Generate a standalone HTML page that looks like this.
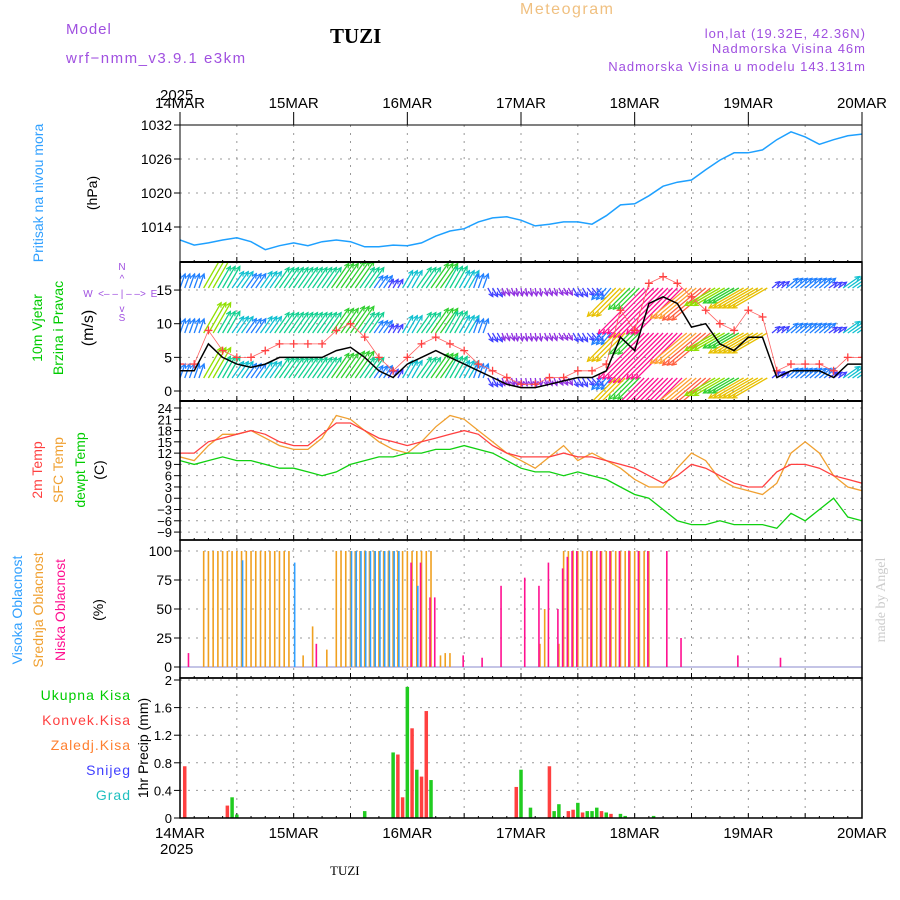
<!DOCTYPE html>
<html><head><meta charset="utf-8"><style>
body{margin:0;background:#fff}
svg{display:block;font-family:"Liberation Sans",sans-serif}
</style></head><body>
<svg id="c" width="900" height="900" xmlns="http://www.w3.org/2000/svg">
<g>
<text x="66" y="34" fill="#a050e0" font-size="15" letter-spacing="1">Model</text>
<text x="66" y="63" fill="#a050e0" font-size="15" letter-spacing="1.5">wrf−nmm_v3.9.1 e3km</text>
<text x="330" y="43" fill="#000" font-size="21" font-weight="bold" font-family="Liberation Serif,serif">TUZI</text>
<text x="520" y="14" fill="#f0c080" font-size="16" letter-spacing="1.5">Meteogram</text>
<text x="866" y="38" fill="#a050e0" font-size="13" text-anchor="end" letter-spacing="1">lon,lat (19.32E, 42.36N)</text>
<text x="866" y="53" fill="#a050e0" font-size="13" text-anchor="end" letter-spacing="1">Nadmorska Visina 46m</text>
<text x="866" y="71" fill="#a050e0" font-size="13" text-anchor="end" letter-spacing="1">Nadmorska Visina u modelu 143.131m</text>
<text x="160" y="100" font-size="15">2025</text>
<text x="160" y="854" font-size="15">2025</text>
<text x="330" y="875" font-size="13" font-family="Liberation Serif,serif">TUZI</text>
<text transform="translate(885,600) rotate(-90)" font-size="14" fill="#ccc" text-anchor="middle" font-family="Liberation Serif,serif">made by Angel</text>
</g>
<g font-size="14" text-anchor="middle">
<text transform="translate(43,193) rotate(-90)" fill="#30a0ff">Pritisak na nivou mora</text>
<text transform="translate(97,193) rotate(-90)" fill="#000">(hPa)</text>
<text transform="translate(42,328) rotate(-90)" fill="#00cc00">10m Vjetar</text>
<text transform="translate(63,328) rotate(-90)" fill="#00cc00">Brzina i Pravac</text>
<text transform="translate(93,328) rotate(-90)" fill="#000" font-size="16">(m/s)</text>
<g fill="#a050e0" font-size="10">
<text x="122" y="270">N</text><text x="122" y="321">S</text><text x="88" y="297">W</text><text x="154" y="297">E</text>
<text x="122" y="297">&lt;– – | – –&gt;</text><text x="122" y="282">^</text><text x="122" y="312">v</text></g>
<text transform="translate(42,470) rotate(-90)" fill="#ff4040">2m Temp</text>
<text transform="translate(63,470) rotate(-90)" fill="#f0a030">SFC Temp</text>
<text transform="translate(85,470) rotate(-90)" fill="#00cc00">dewpt Temp</text>
<text transform="translate(104,470) rotate(-90)" fill="#000">(C)</text>
<text transform="translate(22,610) rotate(-90)" fill="#30a0ff">Visoka Oblacnost</text>
<text transform="translate(43,610) rotate(-90)" fill="#f0a030">Srednja Oblacnost</text>
<text transform="translate(65,610) rotate(-90)" fill="#ff1090">Niska Oblacnost</text>
<text transform="translate(103,610) rotate(-90)" fill="#000">(%)</text>
<text transform="translate(148,748) rotate(-90)" fill="#000">1hr Precip (mm)</text>
<g text-anchor="end" font-size="14" letter-spacing="1">
<text x="131" y="700" fill="#00cc00">Ukupna Kisa</text>
<text x="131" y="725" fill="#ff4040">Konvek.Kisa</text>
<text x="131" y="750" fill="#ff8030">Zaledj.Kisa</text>
<text x="131" y="775" fill="#4040ff">Snijeg</text>
<text x="131" y="800" fill="#20c0c0">Grad</text>
</g></g>
<g id="plot"></g>
</svg>
<script>
// data arrays (3-hourly, 14MAR00 .. 20MAR00)
const days = ["14MAR","15MAR","16MAR","17MAR","18MAR","19MAR","20MAR"];
const pressure = [1011.7,1010.8,1011.2,1011.7,1012.1,1011.4,1010,1010.7,1011.2,1010.7,1011.4,1011.7,1011.4,1010.5,1010.5,1010.8,1010.7,1011.2,1012.4,1013.3,1013.7,1014.9,1015.6,1015.8,1015.2,1014.2,1014.5,1014.9,1014.9,1014.5,1016,1017.9,1018.1,1019.5,1021.2,1021.9,1022.3,1024.1,1025.8,1027.1,1027.1,1027.6,1029.4,1030.8,1029.9,1028.6,1029.4,1030.1,1030.4];
const pressureTicks = [1014,1020,1026,1032];
const windSpeed = [3,3,7,5,4,3.5,4,5,5,5,5,6,6.5,5,3,2,4,5,6,5,4,3,2,1,0.5,0.5,1,1.5,2,2,3,8,6,13,14,13,9.5,10,7,6,8,8,2,3,3,3,2,4,4];
const windGust = [4,4,9,6,5,5,6,7,7,7,7,9,10,8,5,3,5,7,8,7,6,4,3,2,1,1,2,2,3,3,4,12,9,16,17,16,14,12,10,9,12,11,3,4,4,4,3,5,5];
const windDir = [70,70,60,60,55,55,55,55,55,55,55,55,55,55,55,60,60,55,55,60,60,70,-60,-70,-80,-80,-70,-60,-60,-50,230,225,225,225,225,225,220,220,210,210,210,210,40,40,40,40,35,35,35];
const windTicks = [0,5,10,15];
const temp2m = [12,12,15,16,17,18,17,15,14,14,17,20,20,18,16,15,14,15,16,17,18,17,14,12,11,11,11,12,11,11,10,9,8,6,4,6,9,8,6,4,3,3,7,9,9,8,6,5,4];
const tempSfc = [11,10,14,17,17,18,16,14,13,13,16,22,21,18,15,13,12,15,19,22,21,18,15,12,10,8,11,14,10,12,10,8,5,3,3,8,12,10,5,3,2,1,4,12,15,12,6,3,2];
const dewpt = [10,9,10,11,10,10,9,8,8,7,6,7,9,10,11,11,12,12,13,13,14,13,12,10,8,7,7,6,7,6,5,3,1,0,-3,-6,-7,-7,-6,-7,-7,-7,-8,-4,-6,-3,0,-5,-6];
const tempTicks = [-9,-6,-3,0,3,6,9,12,15,18,21,24];
// cloud: hours and percentages
const cloudMidHours = [5,6,7,8,9,10,11,12,13,14,15,16,17,18,19,20,21,22,23,26,28,31,33,34,35,36,37,38,39,40,41,42,43,44,45,46,47,48,49,50,51,52,53,55,56,57,76,77,80,81,82,83,84,85,86,87,88,89,90,91,92,93,94,95,96,97,98,99];
const cloudMidVals = [100,100,100,100,100,100,100,100,100,100,100,100,100,100,100,100,100,100,100,10,35,15,100,100,100,100,100,100,100,100,100,100,100,100,100,100,100,100,100,100,100,100,100,10,12,12,20,50,20,100,100,100,100,100,100,100,100,100,100,100,100,100,100,100,100,100,100,100];
const cloudHighHours = [13,24,36,37,38,39,40,41,42,43,44,45,46,50];
const cloudHighVals = [92,90,100,100,100,100,100,100,100,100,100,100,100,70];
const cloudLowHours = [2,29,49,51,53,54,60,64,68,73,76,78,80,81,82,83,84,87,89,91,93,95,97,99,103,106,118,127];
const cloudLowVals = [12,20,90,90,60,60,10,8,70,77,70,90,50,85,95,100,100,100,100,100,100,100,100,100,100,25,10,8];
const cloudTicks = [0,25,50,75,100];
// precip: hours and mm
const precipTotalHours = [11,12,39,45,48,50,53,72,74,79,80,84,86,87,88,90,93,94,100];
const precipTotalVals = [0.3,0.05,0.1,0.95,1.9,0.7,0.55,0.7,0.15,0.1,0.2,0.22,0.1,0.1,0.15,0.08,0.06,0.03,0.03];
const precipConvHours = [1,10,46,47,49,51,52,71,78,82,83,85,89,91];
const precipConvVals = [0.75,0.18,0.92,0.3,1.3,0.6,1.55,0.45,0.75,0.1,0.12,0.08,0.1,0.06];
const precipTicks = [0,0.4,0.8,1.2,1.6,2];

const NS="http://www.w3.org/2000/svg";
const plot=document.getElementById('plot');
const X0=180,X1=862;
const xh=h=>X0+(X1-X0)*h/144;
const xi=i=>xh(i*3);
function mk(tag,attrs,parent){const e=document.createElementNS(NS,tag);for(const k in attrs)e.setAttribute(k,attrs[k]);(parent||plot).appendChild(e);return e;}
const panels=[
 {name:'pressure',top:125,bot:262,ticks:pressureTicks},
 {name:'wind',top:262,bot:401,ticks:windTicks},
 {name:'temp',top:401,bot:540,ticks:tempTicks},
 {name:'cloud',top:540,bot:678,ticks:cloudTicks},
 {name:'precip',top:678,bot:818,ticks:precipTicks}];
panels[0].y=v=>125+(1032-v)*34/6;
panels[1].y=v=>391-v*6.73;
panels[2].y=v=>408+(24-v)*3.76;
panels[3].y=v=>667-v*1.16;
panels[4].y=v=>818-v*69;
panels.forEach(p=>{
 const g=mk('g',{});
 
 
 for(let h=0;h<=144;h+=12){mk('line',{x1:xh(h),x2:xh(h),y1:p.top,y2:p.bot,stroke:'#999','stroke-dasharray':'2,6'},g);}
 p.ticks.forEach(t=>{const y=p.y(t);
  mk('line',{x1:X0,x2:X1,y1:y,y2:y,stroke:'#999','stroke-dasharray':'2,6'},g);
  mk('line',{x1:X0-6,x2:X0,y1:y,y2:y,stroke:'#000'},g);
  const tx=mk('text',{x:X0-8,y:y+5,'text-anchor':'end','font-size':p.name=='temp'||p.name=='precip'?13:14},g);
  tx.textContent=(p.name=='pressure'||p.name=='cloud'||p.name=='wind')?t:(p.name=='temp'?String(t).replace('-','−'):(t==0?'0':(t==2?'2':t.toFixed(1))));
  
  
 });
 for(let h=0;h<=144;h+=3){mk('line',{x1:xh(h),x2:xh(h),y1:p.bot,y2:p.bot-(h%12?2:5),stroke:'#000'},g);}
});
function clipFor(p,id){const cp=mk('clipPath',{id:id});mk('rect',{x:X0,y:p.top,width:X1-X0,height:p.bot-p.top},cp);}
function line(arr,p,color,name,w){const d=arr.map((v,i)=>(i?'L':'M')+xi(i).toFixed(1)+','+p.y(v).toFixed(1)).join('');
 const e=mk('path',{d:d,fill:'none',stroke:color,'stroke-width':w||1.3,'clip-path':'url(#clip-'+p.name+')'});
 
 return e;}
panels.forEach(p=>clipFor(p,'clip-'+p.name));
line(pressure,panels[0],'#1ea0ff','pressure-line',1.5);
function windColor(s){if(s<2)return '#9030e0';if(s<3)return '#4040ff';if(s<4)return '#2080ff';if(s<5)return '#10c0d0';if(s<6)return '#10d090';if(s<7)return '#30d030';if(s<8)return '#90e000';if(s<9)return '#e8c000';if(s<10)return '#ffa030';if(s<12)return '#ff6040';return '#ff1090';}
const wg=mk('g',{'clip-path':'url(#clip-wind)'});


[288,333,378].forEach(rowY=>{
 windSpeed.forEach((s,i)=>{
  for(let k=0;k<3;k++){
   const x=xh(i*3+k-1),a=windDir[i]*Math.PI/180,L=Math.max(8,s*5);
   const x2=x+L*Math.cos(a),y2=rowY-L*Math.sin(a);
   const c=windColor(s);
   const ln=mk('line',{x1:x,y1:rowY,x2:x2,y2:y2,stroke:c,'stroke-width':1.3},wg);
   
   
   const ha=a+Math.PI*0.85,hb=a-Math.PI*0.85;
   mk('path',{d:`M${x2+5*Math.cos(ha)},${y2-5*Math.sin(ha)}L${x2},${y2}L${x2+5*Math.cos(hb)},${y2-5*Math.sin(hb)}`,stroke:c,fill:'none','stroke-width':1.2},wg);
  }
 });
});
line(windGust,panels[1],'#ff6060','wind-gust-line',0.8);
windGust.forEach((v,i)=>{const x=xi(i),y=panels[1].y(v);
 const e=mk('path',{d:`M${x-4},${y}H${x+4}M${x},${y-4}V${y+4}`,stroke:'#ff4040','stroke-width':1.3,'clip-path':'url(#clip-wind)'});
 
 });
line(windSpeed,panels[1],'#000','wind-speed-line',1.5);
line(tempSfc,panels[2],'#f0a030','sfc-temp-line',1.3);
line(temp2m,panels[2],'#ff4040','temp-2m-line',1.3);
line(dewpt,panels[2],'#10d010','dewpoint-line',1.3);
mk('line',{x1:X0,x2:X1,y1:667,y2:667,stroke:'#8888cc'});
function bars(hours,vals,p,color,name,w,dx){hours.forEach((h,i)=>{const x=xh(h)+(dx||0);
 const r=mk('rect',{x:x-w/2,y:p.y(vals[i]),width:w,height:Math.max(0.5,p.y(0)-p.y(vals[i])),fill:color});
 
 });}
bars(cloudMidHours,cloudMidVals,panels[3],'#f0a020','cloud-mid-bar',1.6,0);
bars(cloudHighHours,cloudHighVals,panels[3],'#30a0ff','cloud-high-bar',1.6,1);
bars(cloudLowHours,cloudLowVals,panels[3],'#ff1090','cloud-low-bar',1.6,-1);
bars(precipTotalHours,precipTotalVals,panels[4],'#20cc20','precip-total-bar',3.5,0);
bars(precipConvHours,precipConvVals,panels[4],'#ff4040','precip-conv-bar',3.5,0);
panels.forEach(p=>{mk('rect',{x:X0,y:p.top,width:X1-X0,height:p.bot-p.top,fill:'none',stroke:'#000','stroke-width':p.name=='pressure'?1:1.5});});
mk('line',{x1:X0,x2:X1,y1:262,y2:262,stroke:'#000','stroke-width':2});
mk('line',{x1:X0,x2:X1,y1:401,y2:401,stroke:'#000','stroke-width':2});
days.forEach((d,i)=>{[108,838].forEach(y=>{const t=mk('text',{x:xh(i*24),y:y,'text-anchor':'middle','font-size':15});
 t.textContent=d;
 
 });
 mk('line',{x1:xh(i*24),x2:xh(i*24),y1:112,y2:125,stroke:'#000'});});
</script>
</body></html>
